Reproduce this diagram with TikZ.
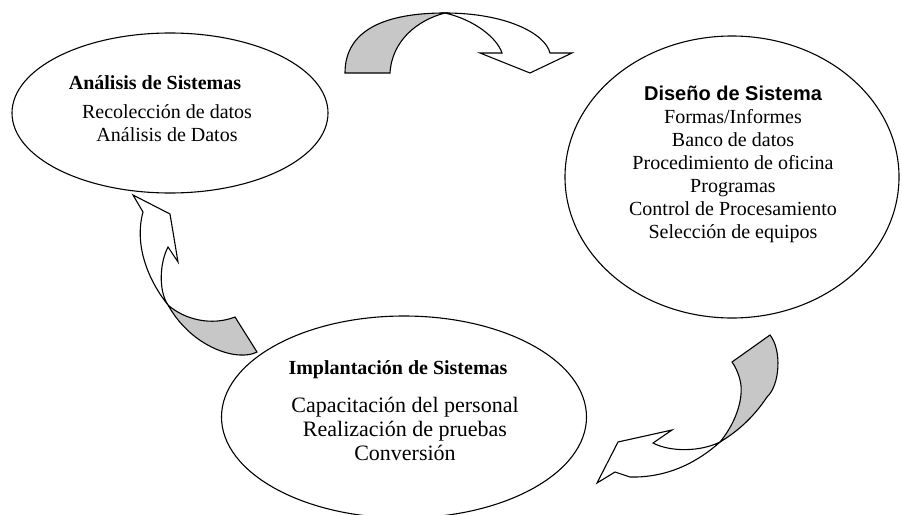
\documentclass[tikz,border=0pt]{standalone}
\usepackage{fontspec}
\setmainfont{Liberation Serif}
\newfontfamily\headsans{Liberation Sans}
\usetikzlibrary{shapes.geometric}

\tikzset{
  phase/.style={ellipse, draw=black, line width=1.1pt, inner sep=0pt},
  bodytext/.style={align=center, inner sep=0pt, font=\fontsize{20}{23}\selectfont},
  headtext/.style={align=center, inner sep=0pt, font=\fontsize{20}{23}\selectfont\bfseries},
  ribbonback/.style={fill=black!22, draw=black, line width=1.1pt, line join=miter},
  ribbonfront/.style={fill=white, draw=black, line width=1.1pt, line join=miter},
}

\begin{document}
\begin{tikzpicture}[x=1pt, y=-1pt]
\useasboundingbox (0,0) rectangle (902,514);

% --- the three phases ---
\node[phase, minimum width=316pt, minimum height=160pt] (ana) at (170,113) {};
\node[phase, minimum width=334pt, minimum height=282pt] (dis) at (732,177) {};
\node[phase, minimum width=365pt, minimum height=202pt] (imp) at (404,417) {};

\node[headtext] (anah) at (155,83) {Análisis de Sistemas};
\node[bodytext] (anab) at (167,123.5)
  {Recolección de datos\\Análisis de Datos};

\node[bodytext] (disb) at (733,164)
  {{\headsans\bfseries Diseño de Sistema}\\Formas/Informes\\Banco de datos\\Procedimiento de oficina\\Programas\\Control de Procesamiento\\Selección de equipos};

\node[headtext] (imph) at (398,370) {Implantación de Sistemas};
\node[bodytext, font=\fontsize{22}{24}\selectfont] (impb) at (405,429)
  {Capacitación del personal\\Realización de pruebas\\Conversión};

% --- twisted ribbon arrow: analysis -> design (top) ---
\coordinate (t1) at (345,73);
\coordinate (t2) at (390,73);
\coordinate (tx) at (445,13);
\fill[ribbonback] (t1) .. controls (345,30) and (385,13) .. (tx)
  .. controls (418,20) and (392,40) .. (t2) -- cycle;
\filldraw[ribbonfront] (tx) .. controls (505,13) and (545,33) .. (550,53)
  -- (572,53) -- (530,73) -- (480,53) -- (502,53)
  .. controls (497,38) and (475,20) .. (tx) -- cycle;

% --- twisted ribbon arrow: design -> implementation (right) ---
\coordinate (r1) at (732,362);
\coordinate (r2) at (770,335);
\coordinate (rx) at (720,442);
\fill[ribbonback] (r1) -- (r2) .. controls (782,350) and (780,385) .. (767,397)
  .. controls (755,415) and (740,430) .. (rx)
  .. controls (738,420) and (744,395) .. (740,380)
  .. controls (738,372) and (735,366) .. (r1) -- cycle;
\filldraw[ribbonfront] (rx) .. controls (700,460) and (670,478) .. (630,477)
  -- (615,472) -- (597,483) -- (618,442) -- (672,430) -- (653,443)
  .. controls (670,452) and (700,452) .. (rx) -- cycle;

% --- twisted ribbon arrow: implementation -> analysis (left) ---
\coordinate (l1) at (235,317);
\coordinate (l2) at (257,352);
\coordinate (lx) at (168,305);
\fill[ribbonback] (lx) .. controls (185,320) and (212,326) .. (l1) -- (l2)
  .. controls (238,362) and (192,348) .. (lx) -- cycle;
\filldraw[ribbonfront] (lx) .. controls (148,280) and (134,245) .. (143,212)
  -- (133,195) -- (170,214) -- (178,262) -- (168,247)
  .. controls (160,262) and (158,290) .. (lx) -- cycle;
\end{tikzpicture}
\end{document}
